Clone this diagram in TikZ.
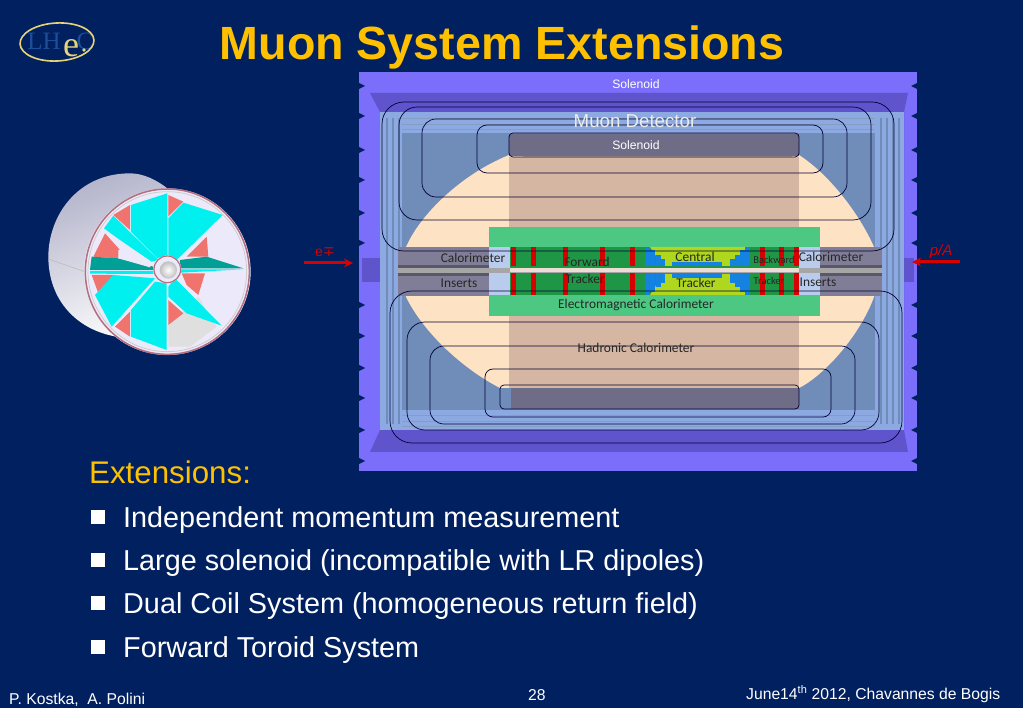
\documentclass[tikz,border=0pt]{standalone}
\usepackage{fontspec}
\setmainfont{Liberation Sans}
\newfontfamily\calibri{Carlito}
\newfontfamily\symbfont{DejaVu Sans}
\newfontfamily\logofont{Liberation Serif}
\definecolor{slide}{RGB}{0,32,96}
\definecolor{gold}{RGB}{255,192,0}
\definecolor{logoY}{RGB}{232,212,120}
\definecolor{logoB}{RGB}{28,78,155}
\definecolor{purpleA}{RGB}{122,110,250}
\definecolor{purpleB}{RGB}{96,84,205}
\definecolor{steel}{RGB}{112,140,185}
\definecolor{steelL}{RGB}{140,170,225}
\definecolor{cream}{RGB}{253,226,196}
\definecolor{tan}{RGB}{212,182,162}
\definecolor{tanD}{RGB}{186,156,142}
\definecolor{emgreen}{RGB}{76,200,130}
\definecolor{trkgreen}{RGB}{30,150,70}
\definecolor{lime}{RGB}{175,215,30}
\definecolor{dblue}{RGB}{20,130,225}
\definecolor{insgray}{RGB}{128,125,150}
\definecolor{soleno}{RGB}{110,108,135}
\definecolor{blade}{RGB}{0,240,240}
\definecolor{bladeD}{RGB}{0,160,150}
\definecolor{salmon}{RGB}{240,115,110}
\definecolor{shell}{RGB}{236,234,250}
\definecolor{hoop}{RGB}{180,110,125}
\begin{document}
\begin{tikzpicture}[x=1pt, y=-1pt, >=stealth]
    \tikzstyle{caption}=[inner sep=0pt, text=black!85, font=\calibri\fontsize{13.4}{15}\selectfont]
    \tikzstyle{tiny}=[inner sep=0pt, text=black!85, font=\calibri\fontsize{10.5}{12}\selectfont]
    \tikzstyle{onpurple}=[inner sep=0pt, text=white, font=\fontsize{12.2}{14}\selectfont]
    \tikzstyle{item}=[anchor=base west, inner sep=0pt, text=white, font=\fontsize{28.8}{32}\selectfont]
    \tikzstyle{bullet}=[fill=white, inner sep=0pt, minimum size=14.5pt]
    \tikzstyle{foot}=[anchor=base west, inner sep=0pt, text=white, font=\fontsize{15.7}{18}\selectfont]
    \tikzstyle{coil}=[draw=black!80!blue, line width=0.7pt]
    \tikzstyle{beam}=[->, draw=red!85!black, line width=3pt]

    \useasboundingbox (0,0) rectangle (1023,708);
    \fill [slide] (0,0) rectangle (1023,708);

    % draw logo
    \node [inner sep=0pt, text=logoB, font=\logofont\fontsize{25}{27}\selectfont] (logoLH) at (44,41) {LH};
    \node [inner sep=0pt, text=logoB, font=\logofont\fontsize{25}{27}\selectfont] (logoC) at (85,41) {C};
    \draw [draw=logoY, line width=1.6pt, rotate around={3:(57,42)}] (57,42) ellipse (37 and 19);
    \node [inner sep=0pt, text=logoY, font=\logofont\fontsize{36}{36}\selectfont] (logoe) at (71,48) {e};
    \fill [logoY] (84,50) circle (1.8);

    % draw title
    \node [inner sep=0pt, text=gold, font=\bfseries\fontsize{46.6}{50}\selectfont] (title) at (502,47) {Muon System Extensions};

    % draw toroid
    \begin{scope}[shift={(30,160)}, scale=1/3]
      \shade [left color=white!85!blue!60!gray, right color=white, shading angle=20] (412,85) .. controls (380,60) and (340,40) .. (300,40) .. controls (140,40) and (55,170) .. (55,290) .. controls (55,420) and (140,510) .. (260,530) .. controls (320,560) and (370,585) .. (412,585) -- cycle;
      \draw [gray!60, line width=0.4pt] (55,297) -- (170,337);
      \fill [shell] (412,335) ellipse (250 and 250);
      \fill [gray!25] (415,495) -- (505,410) -- (560,500) -- (480,560) -- (415,560) -- cycle;
      \fill [salmon] (415,105) -- (460,125) -- (415,170) -- cycle
        (250,165) -- (300,135) -- (300,210) -- cycle
        (190,290) -- (225,220) -- (270,270) -- (265,295) -- cycle
        (530,230) -- (535,290) -- (470,290) -- cycle
        (185,345) -- (250,345) -- (205,400) -- cycle
        (455,340) -- (525,340) -- (505,405) -- (470,375) -- cycle
        (415,420) -- (460,460) -- (415,495) -- cycle
        (300,455) -- (300,530) -- (255,500) -- cycle;
      \fill [blade] (303,135) -- (412,100) -- (412,285) -- (382,295) -- (303,215) -- cycle
        (222,205) -- (250,167) -- (385,300) -- (365,305) -- (270,240) -- cycle
        (415,175) -- (460,128) -- (578,165) -- (440,300) -- (415,285) -- cycle
        (195,405) -- (250,345) -- (375,355) -- (245,500) -- cycle
        (303,450) -- (375,365) -- (410,370) -- (410,570) -- (303,530) -- cycle
        (415,380) -- (435,355) -- (575,497) -- (470,460) -- (415,410) -- cycle
        (180,333) -- (370,333) -- (370,342) -- (180,341) -- cycle
        (450,328) -- (640,328) -- (450,338) -- cycle;
      \fill [bladeD] (185,290) -- (265,295) -- (370,320) -- (370,330) -- (180,330) -- cycle;
      \fill [bladeD] (450,300) -- (530,290) -- (640,325) -- (450,325) -- cycle;
      \fill [shell] (265,270) -- (280,265) -- (365,310) -- (360,322) -- (265,295) -- cycle;
      \draw [hoop, line width=1.5pt] (412,335) ellipse (246 and 248);
      \draw [gray!40, line width=0.8pt] (412,335) ellipse (238 and 240);
      \fill [shell] (412,328) circle (42);
      \draw [hoop, line width=1.2pt] (412,328) circle (40);
      \shade [inner color=white, outer color=gray!50] (415,330) circle (26);
    \end{scope}

    % draw detector body
    \fill [purpleA] (359,72) rectangle (917,471);
    \fill [purpleB] (370,93) -- (908,93) -- (904,112) -- (904,430) -- (908,452) -- (370,452) -- (380,430) -- (380,112) -- cycle;
    \fill [purpleB] (362,258) rectangle (380,282);
    \fill [purpleB] (900,258) rectangle (914,282);
    \fill [steel] (380,112) rectangle (904,430);
    \fill [steelL] (380,112) rectangle (904,133);
    \fill [steelL] (380,410) rectangle (904,430);
    \foreach \y in {118,124,129,415,421,426}
    \fill [steel!85!white] (390,\y) rectangle (895,\y+1.5);
    \fill [steelL] (380,112) rectangle (402,430);
    \fill [steelL] (875,112) rectangle (904,430);
    \foreach \x in {386,392,398,880,886,892,898}
    \fill [steel] (\x,118) rectangle (\x+1.5,424);
    % notches
    \foreach \y in {83,113,147,177,210,240,302,333,365,395,427,458} {
    \fill [slide] (359,\y) -- (365,\y+3) -- (359,\y+6) -- cycle;
    \fill [slide] (917,\y) -- (911,\y+3) -- (917,\y+6) -- cycle;};

    % draw calorimeter volumes
    \fill [cream] (509,155) .. controls (460,175) and (420,215) .. (406,247) -- (406,297) .. controls (425,335) and (465,370) .. (500,388) -- (799,388) .. controls (825,375) and (860,335) .. (874,297) -- (874,247) .. controls (860,215) and (830,175) .. (799,155) -- cycle;
    \fill [tan] (509,157) rectangle (799,388);
    \shade [top color=tan, middle color=tanD, bottom color=tan] (523,157) rectangle (792,388);
    \fill [soleno] (509,134) rectangle (799,156);
    \fill [soleno] (511,388) rectangle (799,409);

    % draw inserts and calorimeter
    \fill [insgray] (398,247) rectangle (882,296);
    \fill [emgreen] (489,227) rectangle (820,316);
    \fill [insgray!70!black] (398,265) rectangle (882,268);
    \fill [insgray!70!black] (398,273) rectangle (882,276);
    \fill [steelL!60!white] (489,247) rectangle (510,295);
    \fill [steelL!60!white] (799,247) rectangle (820,295);
    \fill [trkgreen] (510,247) rectangle (799,295);
    \fill [gray!70] (398,268) rectangle (882,273);
    \fill [white!55!tan] (510,268) rectangle (799,272);

    % draw tracker
    \fill [lime] (650,247) -- (750,247) -- (730,266) -- (663,266) -- cycle;
    \fill [lime] (663,274) -- (730,274) -- (750,295) -- (650,295) -- cycle;
    \fill [dblue] (672,262) rectangle (722,266);
    \fill [dblue] (672,273) rectangle (722,278);
    \foreach \x/\h in {645/247,650/250,656/255,660/259,730/259,735/255,740/250,745/247} {
    \fill [dblue] (\x,\h) rectangle (\x+4.5,266);
    \fill [dblue] (\x,274) rectangle (\x+4.5,542-\h);};
    \foreach \x in {513,533,565,602,632,762,781,796} {
    \fill [red!85!black] (\x-2.5,247) rectangle (\x+2.5,266);
    \fill [red!85!black] (\x-2.5,273) rectangle (\x+2.5,295);};

    % draw coils
    \foreach \l/\t/\r/\b/\c in {382/102/894/251/22,399/107/871/220/18,422/119/847/197/14,477/125/823/173/10}
    \draw [coil, rounded corners=\c pt] (\l,\t) rectangle (\r,\b);
    \foreach \l/\t/\r/\b/\c in {390/291/902/443/22,407/322/879/430/18,430/346/855/424/14,485/369/831/417/8}
    \draw [coil, rounded corners=\c pt] (\l,\t) rectangle (\r,\b);
    \draw [coil, rounded corners=4pt] (509,133) rectangle (799,157);
    \draw [coil, rounded corners=4pt] (500,385) rectangle (799,409);

    % draw text
    \node [onpurple] (solenoidA) at (636,84) {Solenoid};
    \node [onpurple] (solenoidB) at (636,145) {Solenoid};
    \node [inner sep=0pt, text=white!85!gray, font=\fontsize{18.7}{21}\selectfont] (muon) at (635,121) {Muon Detector};

    \foreach \m/\x/\y [count=\i] in {Calorimeter/473/258,Inserts/459/283,Forward/587/262,Tracker/585/279,Central/695/257,Tracker/696/283,Calorimeter/831/257,Inserts/818/282}
    \node [caption] (label-\i) at (\x,\y) {\m};
    \node [tiny] (backward) at (774,260) {Backward};
    \node [tiny] (trackerB) at (769,281) {Tracker};
    \node [caption] (emcal) at (636,305) {Electromagnetic Calorimeter};
    \node [caption] (hadcal) at (636,348) {Hadronic Calorimeter};

    % draw beams
    \node [inner sep=0pt, text=red!85!black, font=\fontsize{14}{16}\selectfont] (eLabel) at (325,252) {e{\symbfont∓}};
    \node [inner sep=0pt, text=red!85!black, font=\itshape\fontsize{15}{17}\selectfont] (pLabel) at (941,252) {p/A};
    \coordinate (eStart) at (304,263);
    \coordinate (eEnd) at (353,263);
    \coordinate (pStart) at (960,262);
    \coordinate (pEnd) at (912,262);
    \draw [beam] (eStart) -- (eEnd);
    \draw [beam] (pStart) -- (pEnd);

    % draw list
    \node [anchor=base west, inner sep=0pt, text=gold, font=\fontsize{31.3}{34}\selectfont] (extensions) at (89,483) {Extensions:};
    \foreach \l/\y [count=\i] in {Independent momentum measurement/527,Large solenoid (incompatible with LR dipoles)/570,Dual Coil System (homogeneous return field)/613,Forward Toroid System/657} {
    \node [item] (item-\i) at (123,\y) {\l};
    \node [bullet] (bullet-\i) at (98,\y-10) {};};

    % draw footer
    \node [foot] (authors) at (9,704) {P. Kostka,\ \ A. Polini};
    \node [foot] (page) at (528,700) {28};
    \node [foot] (date) at (746,699) {June14\textsuperscript{th} 2012, Chavannes de Bogis};
\end{tikzpicture}
\end{document}
